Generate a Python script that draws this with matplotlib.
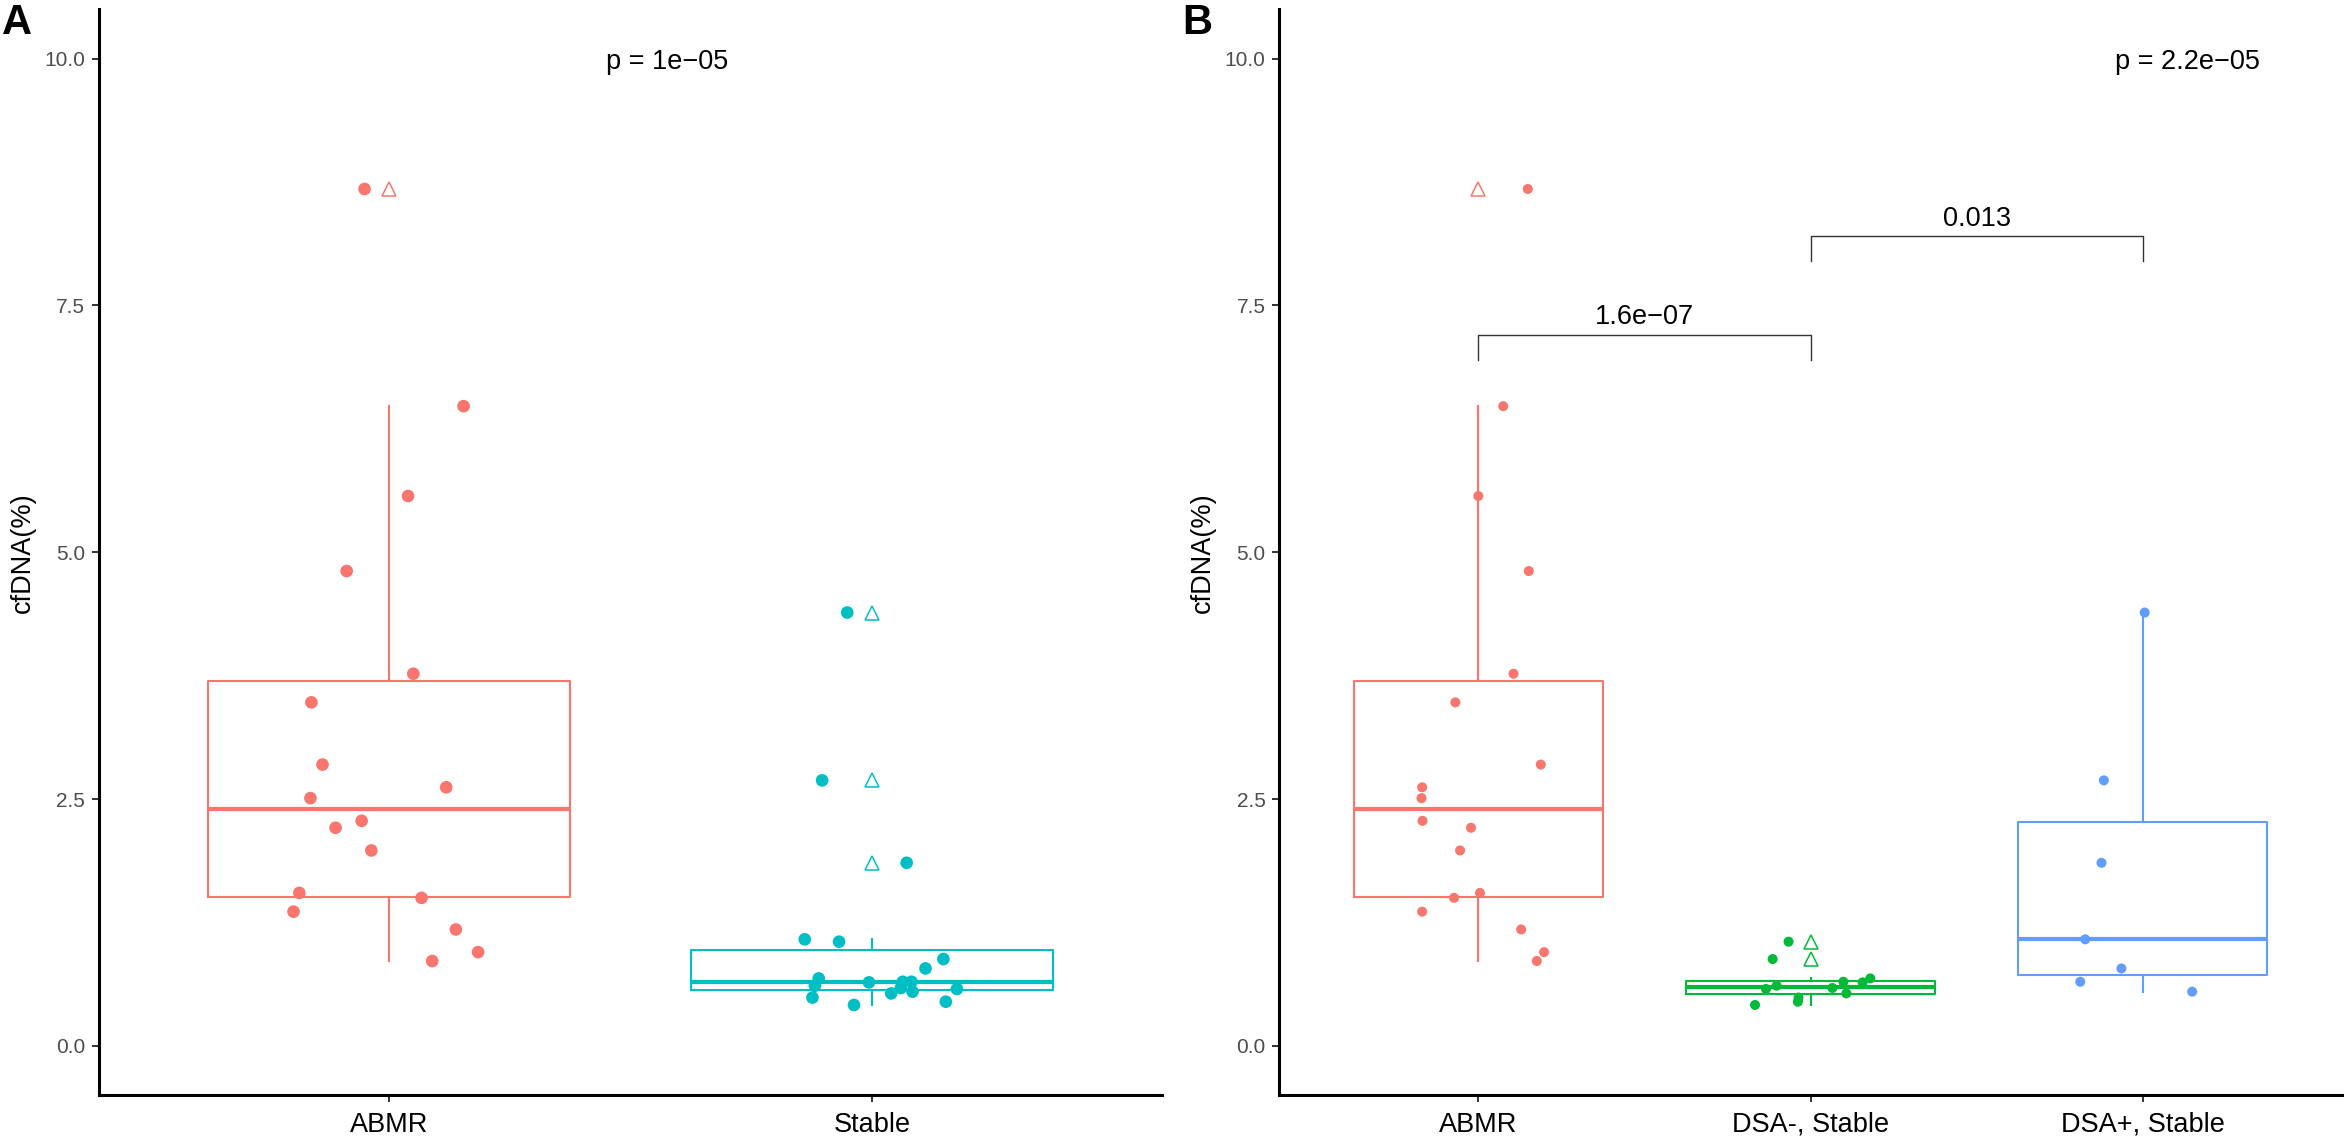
import matplotlib as mpl
mpl.use('Agg')
import matplotlib.pyplot as plt

plt.rcParams['font.family'] = ['Liberation Sans', 'DejaVu Sans']

# groups
groups_a = ["ABMR", "Stable"]
groups_b = ["ABMR", "DSA-, Stable", "DSA+, Stable"]

# cfDNA (%) values
abmr = [8.68, 6.48, 5.57, 4.81, 3.77, 3.48, 2.85, 2.62, 2.51, 2.28, 2.21,
        1.98, 1.55, 1.50, 1.36, 1.18, 0.95, 0.86]
dsa_neg = [1.056, 0.88, 0.684, 0.65, 0.644, 0.61, 0.587, 0.577, 0.532,
           0.49, 0.448, 0.415]
dsa_pos = [4.39, 2.69, 1.855, 1.08, 0.785, 0.65, 0.55]
stable = dsa_neg + dsa_pos

# horizontal jitter of each point (category units), as seen in the picture
abmr_jit_a = [-0.050, 0.155, 0.040, -0.087, 0.051, -0.160, -0.137, 0.119,
              -0.162, -0.056, -0.110, -0.036, -0.185, 0.068, -0.197, 0.139,
              0.185, 0.090]
stable_jit_a = [-0.068, 0.148, -0.110, 0.064, -0.006, -0.118, 0.060, 0.176,
                0.040, -0.123, 0.153, -0.037,
                -0.051, -0.103, 0.072, -0.139, 0.111, 0.082, 0.084]
abmr_jit_b = [0.149, 0.075, 0.0, 0.152, 0.106, -0.069, 0.188, -0.169, -0.171,
              -0.168, -0.022, -0.055, 0.005, -0.073, -0.169, 0.129, 0.198,
              0.176]
dsa_neg_jit_b = [-0.066, -0.114, 0.180, 0.099, 0.157, -0.102, 0.066, -0.134,
                 0.108, -0.036, -0.038, -0.167]
dsa_pos_jit_b = [0.006, -0.117, -0.124, -0.173, -0.064, -0.188, 0.149]

# test results
p_global_a = "p = 1e\u221205"
p_global_b = "p = 2.2e\u221205"
p_label_x = [1.45, 2.918]
p_label_y = 9.895
pairs_b = [(1, 2), (2, 3)]
pairs_p = ["1.6e\u221207", "0.013"]
pairs_y = [7.2, 8.2]
tip = 0.25

cols_a = ["#F8766D", "#00BFC4"]
cols_b = ["#F8766D", "#00BA38", "#619CFF"]

W, H = 2351, 1143
fig = plt.figure(figsize=(W / 100, H / 100), dpi=100)
ax_a = fig.add_axes([98.8 / W, 1 - 1095.3 / H, 1063 / W, 1086 / H])
ax_b = fig.add_axes([1279 / W, 1 - 1095.3 / H, 1063 / W, 1086 / H])


def boxes(ax, data, cols):
    for i, (vals, c) in enumerate(zip(data, cols)):
        ax.boxplot([vals], positions=[i + 1], widths=0.75, whis=1.5,
                   showcaps=False,
                   boxprops=dict(color=c, linewidth=1.5),
                   whiskerprops=dict(color=c, linewidth=1.5),
                   medianprops=dict(color=c, linewidth=3.0),
                   flierprops=dict(marker='^', markerfacecolor='none',
                                   markeredgecolor=c, markersize=10,
                                   markeredgewidth=1.1),
                   manage_ticks=False, zorder=2)


def points(ax, data, jits, cols, size):
    for i, (vals, jit, c) in enumerate(zip(data, jits, cols)):
        xs = [i + 1 + j for j in jit]
        ax.scatter(xs, vals, s=size, color=c, edgecolors='none', zorder=3)


def style(ax, labels):
    ax.set_xlim(0.4, len(labels) + 0.6)
    ax.set_ylim(-0.5, 10.5)
    ax.set_xticks(range(1, len(labels) + 1))
    ax.set_xticklabels(labels)
    ax.set_yticks([0, 2.5, 5, 7.5, 10])
    ax.set_yticklabels(["0.0", "2.5", "5.0", "7.5", "10.0"])
    for s in ['top', 'right']:
        ax.spines[s].set_visible(False)
    for s in ['left', 'bottom']:
        ax.spines[s].set_linewidth(2.2)
        ax.spines[s].set_color('black')
    ax.tick_params(axis='both', length=4.8, width=1.4, color='#333333')
    ax.tick_params(axis='y', labelsize=15, labelcolor='#4D4D4D', pad=5)
    ax.tick_params(axis='x', labelsize=19.5, labelcolor='black', pad=7)
    ax.text(-0.0718, 0.5, "cfDNA(%)", transform=ax.transAxes, rotation=90,
            ha='center', va='center', fontsize=19.5)


# panel A
boxes(ax_a, [abmr, stable], cols_a)
points(ax_a, [abmr, stable], [abmr_jit_a, stable_jit_a], cols_a, 83)
style(ax_a, groups_a)
ax_a.text(p_label_x[0], p_label_y, p_global_a, ha='left', va='baseline',
          fontsize=19.5)

# panel B
data_b = [abmr, dsa_neg, dsa_pos]
boxes(ax_b, data_b, cols_b)
points(ax_b, data_b, [abmr_jit_b, dsa_neg_jit_b, dsa_pos_jit_b], cols_b, 52)
style(ax_b, groups_b)
ax_b.text(p_label_x[1], p_label_y, p_global_b, ha='left', va='baseline',
          fontsize=19.5)
for (g1, g2), lab, yb in zip(pairs_b, pairs_p, pairs_y):
    ax_b.plot([g1, g1, g2, g2], [yb - tip, yb, yb, yb - tip],
              color='#333333', linewidth=1.0, zorder=4)
    ax_b.text((g1 + g2) / 2, yb + 0.11, lab, ha='center', va='baseline',
              fontsize=19.5)

fig.text(2 / W, 1 - 3 / H, "A", fontsize=30, fontweight='bold',
         ha='left', va='top')
fig.text(1182 / W, 1 - 3 / H, "B", fontsize=30, fontweight='bold',
         ha='left', va='top')

fig.savefig('out.png', dpi=100)
